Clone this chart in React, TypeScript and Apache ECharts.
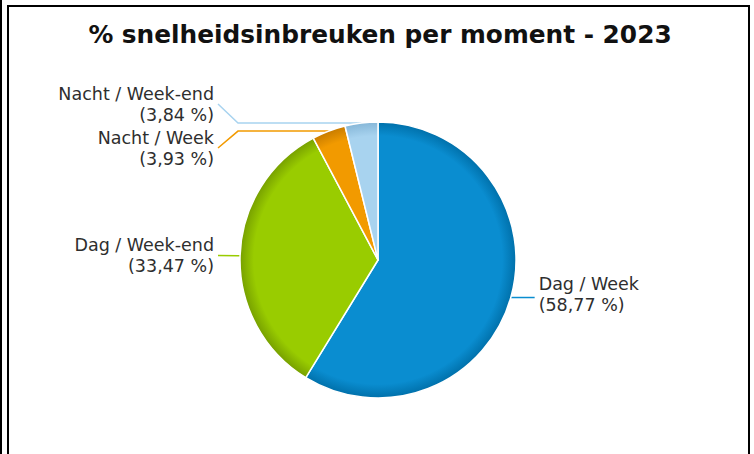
import React, { useEffect, useRef } from "react";
import * as echarts from "echarts";

const titleText = "% snelheidsinbreuken per moment - 2023";
const categories = ["Dag / Week", "Dag / Week-end", "Nacht / Week", "Nacht / Week-end"];
const values = [58.77, 33.47, 3.93, 3.84];
const baseColors = ["#0a8dd0", "#99cc00", "#f29a00", "#a8d3ef"];
const edgeColors = ["#0070aa", "#77a000", "#c87c00", "#86b7d8"];

const CX = 378;
const CY = 260;
const R = 138;

export default function App() {
  const ref = useRef<HTMLDivElement>(null);
  useEffect(() => {
    document.body.style.margin = "0";
    const chart = echarts.init(ref.current!, null, { renderer: "svg" });
    const data = categories.map((name, i) => ({
      name,
      value: values[i],
      itemStyle: {
        color: {
          type: "radial",
          x: CX,
          y: CY,
          r: R,
          global: true,
          colorStops: [
            { offset: 0, color: baseColors[i] },
            { offset: 0.9, color: baseColors[i] },
            { offset: 1, color: edgeColors[i] },
          ],
        },
      },
      labelLine: { lineStyle: { color: baseColors[i] } },
    }));
    chart.setOption({
      animation: false,
      backgroundColor: "#ffffff",
      title: {
        text: titleText,
        left: 375,
        top: 17,
        textAlign: "center",
        textStyle: {
          fontFamily: "DejaVu Sans",
          fontWeight: "bold",
          fontSize: 24.8,
          color: "#111111",
        },
      },
      graphic: [
        {
          type: "line",
          shape: { x1: 1, y1: 0, x2: 1, y2: 454 },
          style: { stroke: "#000", lineWidth: 2 },
        },
        {
          type: "rect",
          shape: { x: 8, y: 6, width: 741, height: 470 },
          style: { fill: "none", stroke: "#000", lineWidth: 2 },
        },
      ],
      series: [
        {
          type: "pie",
          center: [CX, CY],
          radius: R,
          startAngle: 90,
          clockwise: true,
          itemStyle: { borderColor: "#ffffff", borderWidth: 1.5 },
          label: {
            show: true,
            position: "outside",
            distanceToLabelLine: 4,
            fontFamily: "DejaVu Sans",
            fontSize: 17.5,
            lineHeight: 21,
            color: "#2e2e2e",
            formatter: (p: any) =>
              `${p.name}\n(${Number(p.value).toFixed(2).replace(".", ",")} %)`,
          },
          labelLine: { show: true, length: 4, length2: 20, lineStyle: { width: 1.5 } },
          labelLayout: (params: any) => {
            const pts = params.labelLinePoints;
            if (!pts || pts.length < 3) return {};
            const p0 = pts[0];
            const p2 = pts[2];
            const isLeft = p2[0] < p0[0];
            const rect = params.labelRect;
            let cy = rect.y + rect.height / 2;
            if (!isLeft) {
              return { labelLinePoints: [p0, [(p0[0] + p2[0]) / 2, p0[1]], [p2[0], p0[1]]], y: p0[1] - 3 };
            }
            const endX = CX - R - 22;
            if (p0[1] < CY - R * 0.8) cy -= 15;
            return {
              x: endX - 4,
              y: cy,
              labelLinePoints: [p0, [endX + 20, p0[1]], [endX, cy]],
            };
          },
          data,
        },
      ],
    });
    return () => chart.dispose();
  }, []);
  return <div ref={ref} style={{ width: 754, height: 454 }} />;
}
